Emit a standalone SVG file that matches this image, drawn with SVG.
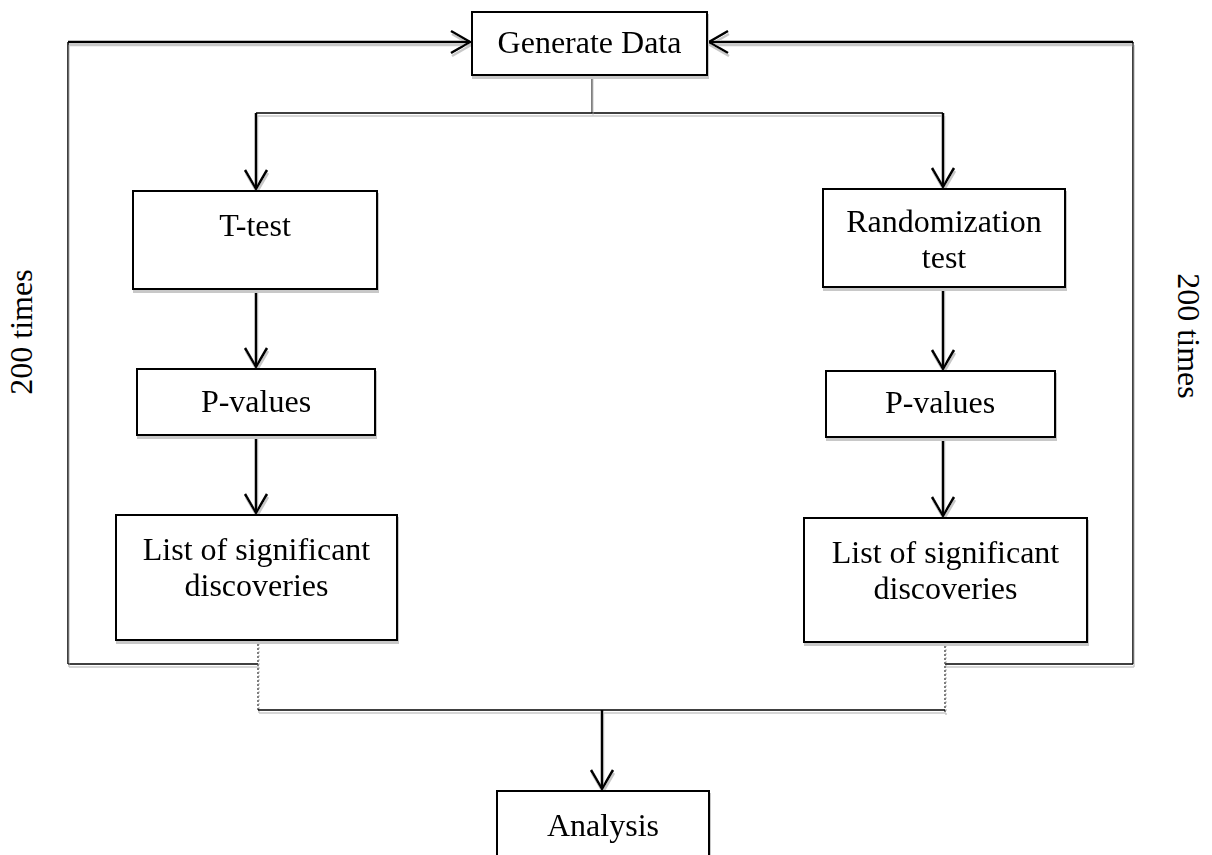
<svg xmlns="http://www.w3.org/2000/svg" width="1212" height="855" viewBox="0 0 1212 855">
<defs>
  <filter id="sh" x="-5%" y="-5%" width="110%" height="120%">
    <feOffset in="SourceAlpha" dx="1" dy="3" result="o"/>
    <feFlood flood-color="#c8c8c8"/>
    <feComposite in2="o" operator="in" result="s"/>
    <feMerge><feMergeNode in="s"/><feMergeNode in="SourceGraphic"/></feMerge>
  </filter>
  <marker id="arr" markerUnits="userSpaceOnUse" markerWidth="24" markerHeight="26" viewBox="-21 -13 24 26" refX="0" refY="0" orient="auto">
    <path d="M-19,-11 L0,0 L-19,11" fill="none" stroke="#000" stroke-width="2.5"/>
  </marker>
  <style>
    .box{fill:#fff;stroke:#000;stroke-width:2}
    .t{font-family:"Liberation Serif","Times New Roman",serif;font-size:32px;fill:#000;text-anchor:middle}
    .ln{fill:none;stroke:#000;stroke-width:1.5}
    .ar{fill:none;stroke:#000;stroke-width:2.5;marker-end:url(#arr)}
    .dot{fill:none;stroke:#555;stroke-width:1.5;stroke-dasharray:2 2}
  </style>
</defs>
<rect width="1212" height="855" fill="#fff"/>
<g id="connectors" filter="url(#sh)">
  <path class="ln" d="M68,664 V42"/>
  <path class="ar" d="M68,42 H470"/>
  <path class="ln" d="M1133,664 V42"/>
  <path class="ar" d="M1133,42 H709"/>
  <path class="ln" d="M68,664 H258"/>
  <path class="ln" d="M945,664 H1133"/>
  <path d="M592,75 V113" fill="none" stroke="#000" stroke-width="1"/>
  <path class="ln" d="M256,113 H943"/>
  <path class="ar" d="M256,113 V189"/>
  <path class="ar" d="M943,113 V187"/>
  <path class="ar" d="M256,289 V367"/>
  <path class="ar" d="M943,287 V369"/>
  <path class="ar" d="M256,435 V513"/>
  <path class="ar" d="M943,437 V516"/>
  <path class="dot" d="M258,640 V712"/>
  <path class="dot" d="M945,642 V712"/>
  <path class="ln" d="M258,710 H945"/>
  <path class="ar" d="M602,710 V789"/>
</g>
<g id="n-generate" filter="url(#sh)">
  <rect class="box" x="472" y="12" width="235" height="63"/>
  <text class="t" x="589.5" y="53">Generate Data</text>
</g>
<g id="n-ttest" filter="url(#sh)">
  <rect class="box" x="133" y="191" width="244" height="98"/>
  <text class="t" x="255" y="236">T-test</text>
</g>
<g id="n-rand" filter="url(#sh)">
  <rect class="box" x="823" y="189" width="242" height="98"/>
  <text class="t" x="944" y="232">Randomization</text>
  <text class="t" x="944" y="268">test</text>
</g>
<g id="n-pval-left" filter="url(#sh)">
  <rect class="box" x="137" y="369" width="238" height="66"/>
  <text class="t" x="256" y="412">P-values</text>
</g>
<g id="n-pval-right" filter="url(#sh)">
  <rect class="box" x="826" y="371" width="229" height="66"/>
  <text class="t" x="940" y="413">P-values</text>
</g>
<g id="n-list-left" filter="url(#sh)">
  <rect class="box" x="116" y="515" width="281" height="125"/>
  <text class="t" x="256.5" y="560">List of significant</text>
  <text class="t" x="256.5" y="596">discoveries</text>
</g>
<g id="n-list-right" filter="url(#sh)">
  <rect class="box" x="804" y="518" width="283" height="124"/>
  <text class="t" x="945.5" y="563">List of significant</text>
  <text class="t" x="945.5" y="599">discoveries</text>
</g>
<g id="n-analysis" filter="url(#sh)">
  <rect class="box" x="497" y="791" width="212" height="80"/>
  <text class="t" x="603" y="836">Analysis</text>
</g>
<g id="label-left">
  <text class="t" transform="translate(32,332) rotate(-90)">200 times</text>
</g>
<g id="label-right">
  <text class="t" transform="translate(1178,336) rotate(90)">200 times</text>
</g>
</svg>
